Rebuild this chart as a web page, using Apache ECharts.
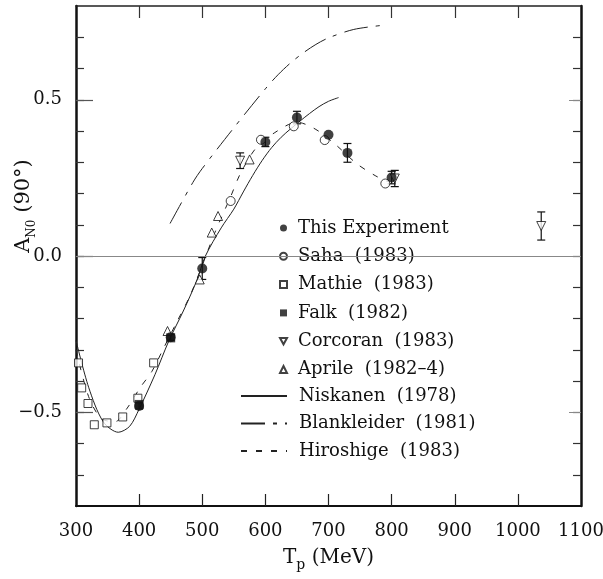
<!DOCTYPE html>
<html><head><meta charset="utf-8">
<script src="https://cdn.jsdelivr.net/npm/echarts@6/dist/echarts.min.js"></script>
<style>html,body{margin:0;padding:0;background:#fff}#c{width:603px;height:579px}</style>
</head><body><div id="c"></div>
<script>
const FONT = 'DejaVu Serif';

// Axis ticks / labels
const xTickValues = [400, 500, 600, 700, 800, 900, 1000];
const yMinorTicks = [-0.7, -0.6, -0.5, -0.4, -0.3, -0.2, -0.1, 0, 0.1, 0.2, 0.3, 0.4, 0.5, 0.6, 0.7];
const yMajorTicks = [-0.5, 0, 0.5];

// This Experiment
const expX   = [400, 450, 500, 600, 650, 700, 730, 800];
const expY   = [-0.48, -0.26, -0.04, 0.365, 0.443, 0.388, 0.33, 0.251];
const expErr = [0.01, 0.01, 0.035, 0.015, 0.02, 0.0, 0.03, 0.02];

// Saha (1983)
const sahaX = [545, 593, 645, 694, 790];
const sahaY = [0.176, 0.372, 0.415, 0.371, 0.232];

// Mathie (1983)
const mathieX = [304, 309, 319, 329, 349, 374, 398, 423];
const mathieY = [-0.342, -0.422, -0.472, -0.54, -0.534, -0.515, -0.455, -0.342];

// Falk (1982)
const falkX = [400, 450];
const falkY = [-0.475, -0.262];

// Corcoran (1983)
const corcX   = [560, 805, 1037];
const corcY   = [0.305, 0.248, 0.096];
const corcErr = [0.025, 0.026, 0.045];

// Aprile (1982-4)
const aprX = [445, 496, 515, 525, 575];
const aprY = [-0.24, -0.075, 0.075, 0.128, 0.309];

// Niskanen (1978) theory
const niskX = [300, 320, 343, 367, 385, 400, 425, 447, 470, 491, 505, 530, 550, 565, 580, 595, 610, 625, 640, 655, 670, 685, 700, 716];
const niskY = [-0.27, -0.42, -0.53, -0.564, -0.545, -0.49, -0.38, -0.272, -0.176, -0.08, 0.0, 0.09, 0.15, 0.205, 0.258, 0.306, 0.347, 0.38, 0.407, 0.432, 0.456, 0.478, 0.495, 0.507];

// Blankleider (1981) theory
const blankX = [449, 485, 500, 550, 600, 620, 640, 660, 680, 700, 740, 785];
const blankY = [0.104, 0.235, 0.28, 0.41, 0.535, 0.58, 0.618, 0.65, 0.677, 0.698, 0.725, 0.738];

// Hiroshige (1983) theory
const hiroX = [300, 320, 340, 362, 380, 402, 420, 440, 460, 480, 500, 520, 545, 560, 585, 615, 650, 680, 712, 745, 775, 795];
const hiroY = [-0.3, -0.45, -0.52, -0.53, -0.49, -0.42, -0.37, -0.29, -0.21, -0.13, -0.03, 0.075, 0.19, 0.262, 0.345, 0.395, 0.428, 0.405, 0.355, 0.295, 0.256, 0.237];

const zip = (xs, ys) => xs.map((x, i) => [x, ys[i]]);
const zip3 = (xs, ys, es) => xs.map((x, i) => [x, ys[i], es[i]]);

const NAMES = {
  exp: 'This Experiment', saha: 'Saha  (1983)', mathie: 'Mathie  (1983)', falk: 'Falk  (1982)',
  corc: 'Corcoran  (1983)', apr: 'Aprile  (1982\u20134)', nisk: 'Niskanen  (1978)',
  blank: 'Blankleider  (1981)', hiro: 'Hiroshige  (1983)'
};

function errRender(params, api) {
  const x = api.value(0), y = api.value(1), e = api.value(2);
  if (!e) return null;
  const t = api.coord([x, y + e]), b = api.coord([x, y - e]);
  const hw = 4;
  const st = { stroke: '#111', lineWidth: 1.2 };
  return { type: 'group', children: [
    { type: 'line', shape: { x1: t[0], y1: t[1], x2: b[0], y2: b[1] }, style: st },
    { type: 'line', shape: { x1: t[0] - hw, y1: t[1], x2: t[0] + hw, y2: t[1] }, style: st },
    { type: 'line', shape: { x1: b[0] - hw, y1: b[1], x2: b[0] + hw, y2: b[1] }, style: st }
  ]};
}

const hollow = { color: '#fff', borderColor: '#111', borderWidth: 1 };
const lineBase = { color: '#222', width: 1 };

const yFmt = v => (Math.abs(v) < 1e-9 ? '0.0' : (v < 0 ? '\u2212' + Math.abs(v).toFixed(1) : v.toFixed(1)));

const option = {
  animation: false,
  backgroundColor: '#fff',
  textStyle: { fontFamily: FONT },
  grid: { left: 76, right: 22, top: 6, bottom: 73, containLabel: false, outerBoundsMode: 'none' },
  legend: [
    {
      orient: 'vertical', left: 255, top: 214, padding: [5, 38, 6, 24],
      backgroundColor: '#fff', itemWidth: 7, itemHeight: 7, itemGap: 10.3,
      selectedMode: false,
      data: [NAMES.exp, NAMES.saha, NAMES.mathie, NAMES.falk,
        { name: NAMES.corc, icon: 'path://M0,0 L10,0 L5,9 Z' }, NAMES.apr],
      textStyle: { fontFamily: FONT, fontSize: 18, color: '#111', padding: [0, 0, 0, 6] }
    },
    {
      orient: 'vertical', left: 235, top: 382, padding: 5,
      itemWidth: 46, itemHeight: 12, itemGap: 9.5, selectedMode: false,
      itemStyle: { color: 'rgba(0,0,0,0)', borderWidth: 0, opacity: 0 },
      data: [NAMES.nisk, NAMES.blank, NAMES.hiro],
      textStyle: { fontFamily: FONT, fontSize: 18, color: '#111', padding: [0, 0, 0, 7] }
    }
  ],
  xAxis: [
    {
      type: 'value', position: 'bottom', min: 300, max: 1100, interval: 100,
      axisLine: { onZero: false, lineStyle: { color: '#111', width: 2 } },
      axisTick: { inside: true, length: 12, customValues: xTickValues, lineStyle: { color: '#222', width: 1.2 } },
      axisLabel: { margin: 16, fontFamily: FONT, fontSize: 18, color: '#111', formatter: v => String(v) },
      splitLine: { show: false },
      name: '{a|T}{s|p}{a| (MeV)}', nameLocation: 'middle', nameGap: 38, nameMoveOverlap: false,
      nameTextStyle: { rich: {
        a: { fontFamily: FONT, fontSize: 20, color: '#111', lineHeight: 28, verticalAlign: 'middle' },
        s: { fontFamily: FONT, fontSize: 14, color: '#111', lineHeight: 28, verticalAlign: 'bottom' }
      } }
    },
    {
      type: 'value', position: 'top', min: 300, max: 1100, interval: 100,
      axisLine: { onZero: false, lineStyle: { color: '#222', width: 1.5 } },
      axisTick: { inside: true, length: 12, customValues: xTickValues, lineStyle: { color: '#333', width: 1.2 } },
      axisLabel: { show: false }, splitLine: { show: false }
    }
  ],
  yAxis: [
    {
      type: 'value', position: 'left', min: -0.8, max: 0.8,
      axisLine: { onZero: false, lineStyle: { color: '#111', width: 2.5 } },
      axisTick: { inside: true, length: 8, customValues: yMinorTicks, lineStyle: { color: '#333', width: 1.2 } },
      axisLabel: { customValues: yMajorTicks, formatter: yFmt, margin: 14, fontFamily: FONT, fontSize: 18, color: '#111' },
      splitLine: { show: false },
      name: '{a|A}{s|N0}{a| (90\u00b0)}', nameLocation: 'middle', nameGap: 38, nameMoveOverlap: false,
      nameTextStyle: { padding: [0, 0, 0, 100], rich: {
        a: { fontFamily: FONT, fontSize: 21, color: '#111', lineHeight: 28, verticalAlign: 'middle' },
        s: { fontFamily: FONT, fontSize: 12, color: '#111', lineHeight: 28, verticalAlign: 'bottom' }
      } }
    },
    {
      type: 'value', position: 'left', min: -0.8, max: 0.8,
      axisLine: { show: false, onZero: false },
      axisTick: { inside: true, length: 17, customValues: yMajorTicks, lineStyle: { color: '#555', width: 1.2 } },
      axisLabel: { show: false }, splitLine: { show: false }
    },
    {
      type: 'value', position: 'right', min: -0.8, max: 0.8,
      axisLine: { onZero: false, lineStyle: { color: '#111', width: 2.5 } },
      axisTick: { inside: true, length: 8, customValues: yMinorTicks, lineStyle: { color: '#333', width: 1.2 } },
      axisLabel: { show: false }, splitLine: { show: false }
    },
    {
      type: 'value', position: 'right', min: -0.8, max: 0.8,
      axisLine: { show: false, onZero: false },
      axisTick: { inside: true, length: 12, customValues: yMajorTicks, lineStyle: { color: '#888', width: 1 } },
      axisLabel: { show: false }, splitLine: { show: false }
    }
  ],
  series: [
    {
      name: NAMES.nisk, type: 'line', data: zip(niskX, niskY), smooth: 0.3, symbol: 'none',
      lineStyle: { ...lineBase, type: 'solid' }, itemStyle: { color: '#222' }, z: 2,
      markLine: { silent: true, symbol: 'none', label: { show: false },
        lineStyle: { color: '#888', width: 1, type: 'solid' }, data: [{ yAxis: 0 }] }
    },
    {
      name: NAMES.blank, type: 'line', data: zip(blankX, blankY), smooth: 0.3, symbol: 'none',
      lineStyle: { ...lineBase, type: [24, 8, 4, 8] }, itemStyle: { color: '#222' }, z: 2
    },
    {
      name: NAMES.hiro, type: 'line', data: zip(hiroX, hiroY), smooth: 0.3, symbol: 'none',
      lineStyle: { ...lineBase, type: [6, 9] }, itemStyle: { color: '#222' }, z: 2
    },
    { type: 'custom', renderItem: errRender, data: zip3(expX, expY, expErr), encode: { x: 0, y: 1 }, silent: true, z: 3 },
    { type: 'custom', renderItem: errRender, data: zip3(corcX, corcY, corcErr), encode: { x: 0, y: 1 }, silent: true, z: 3 },
    { name: NAMES.mathie, type: 'scatter', data: zip(mathieX, mathieY), symbol: 'rect', symbolSize: 8, itemStyle: hollow, z: 4 },
    { name: NAMES.saha, type: 'scatter', data: zip(sahaX, sahaY), symbol: 'circle', symbolSize: 9, itemStyle: hollow, z: 4 },
    { name: NAMES.apr, type: 'scatter', data: zip(aprX, aprY), symbol: 'triangle', symbolSize: 9, itemStyle: hollow, z: 4 },
    { name: NAMES.corc, type: 'scatter', data: zip(corcX, corcY), symbol: 'triangle', symbolRotate: 180, symbolSize: 9, itemStyle: hollow, z: 4 },
    { name: NAMES.falk, type: 'scatter', data: zip(falkX, falkY), symbol: 'rect', symbolSize: 9, itemStyle: { color: '#111' }, z: 5 },
    { name: NAMES.exp, type: 'scatter', data: zip(expX, expY), symbol: 'circle', symbolSize: 10, itemStyle: { color: '#111' }, z: 6 }
  ]
};

const chart = echarts.init(document.getElementById('c'), null, { renderer: 'canvas' });
chart.setOption(option);
</script>
</body></html>
